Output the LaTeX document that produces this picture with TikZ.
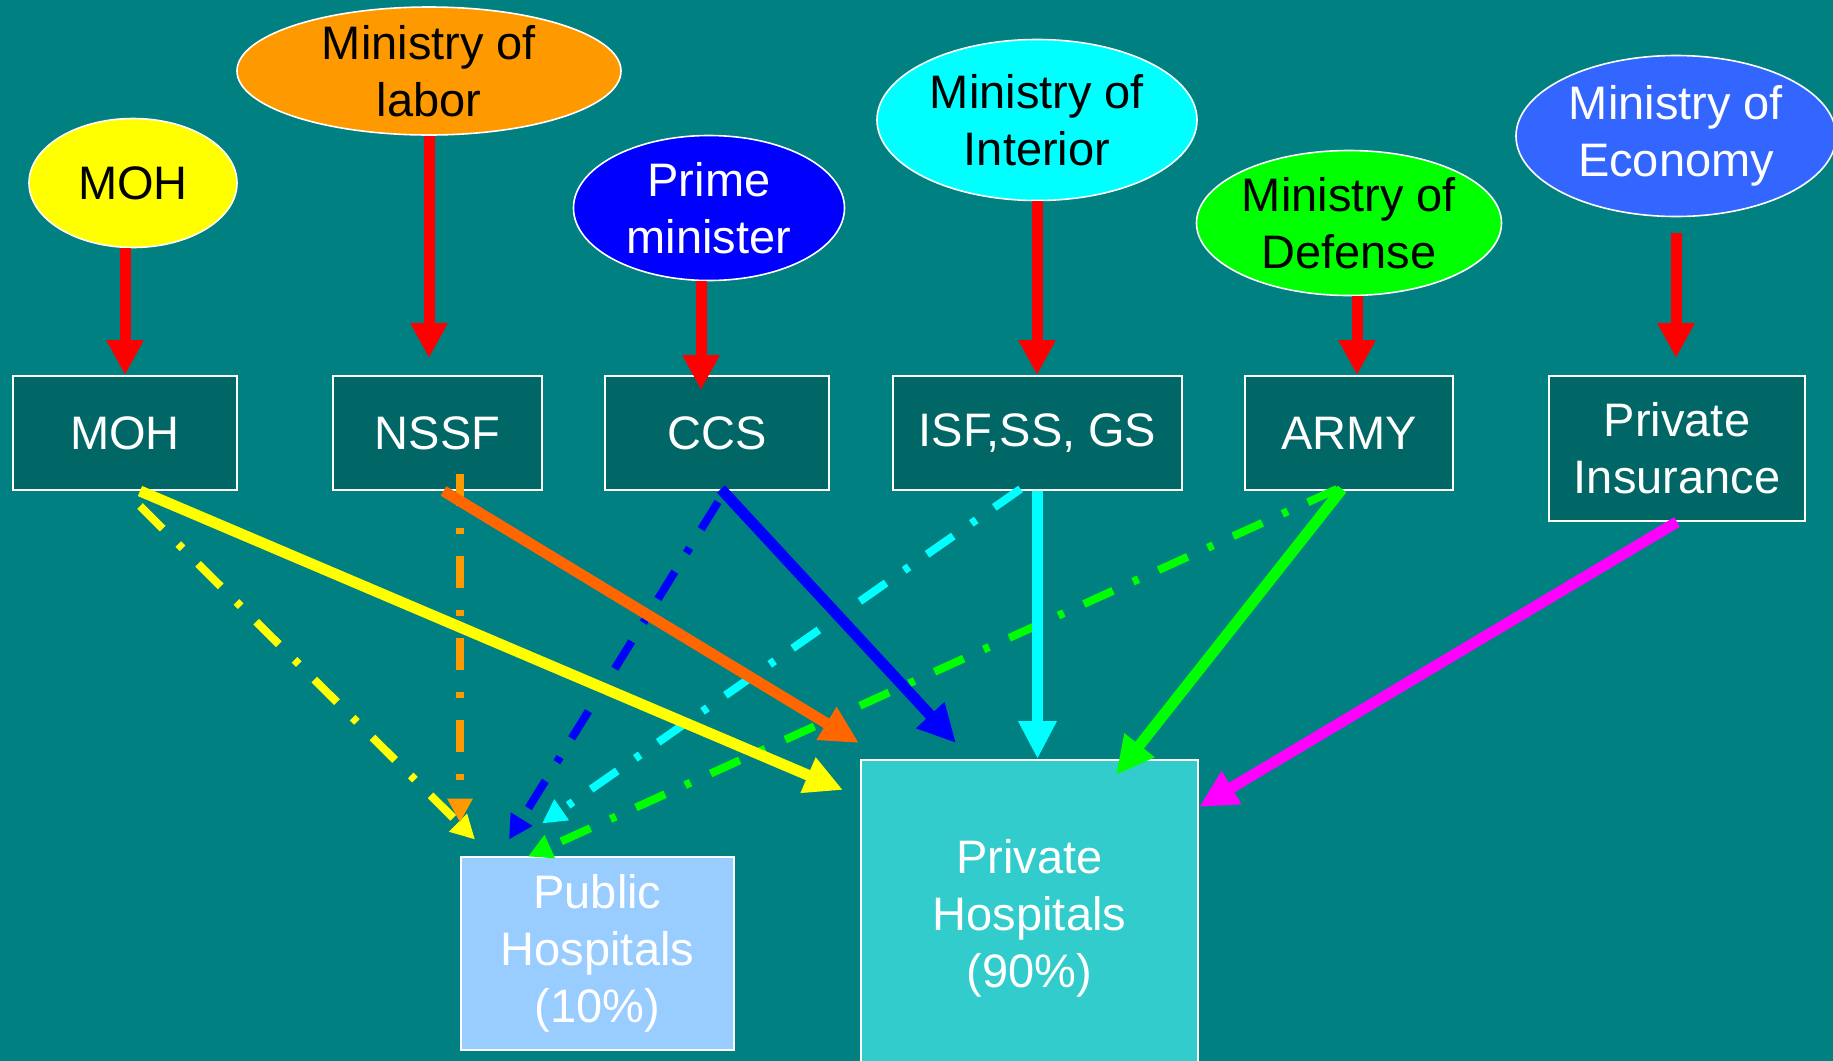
\documentclass[tikz,border=0pt]{standalone}
\usepackage{fontspec}
\setmainfont{Liberation Sans}
\usetikzlibrary{arrows.meta,shapes.geometric,calc}

\definecolor{bgteal}{HTML}{008080}
\definecolor{boxteal}{HTML}{006666}
\definecolor{mohyellow}{HTML}{FFFF00}
\definecolor{labororange}{HTML}{FF9900}
\definecolor{pmblue}{HTML}{0000FF}
\definecolor{intcyan}{HTML}{00FFFF}
\definecolor{defgreen}{HTML}{00FF00}
\definecolor{econblue}{HTML}{3366FF}
\definecolor{pubblue}{HTML}{99CCFF}
\definecolor{privteal}{HTML}{33CCCC}
\definecolor{nssforange}{HTML}{FF6600}
\definecolor{govred}{HTML}{FF0000}
\definecolor{insmagenta}{HTML}{FF00FF}

\begin{document}
\begin{tikzpicture}[
  x=0.5pt, y=-0.5pt,
  font=\fontsize{23.5}{28.5}\selectfont,
  org/.style={ellipse, draw=white, line width=0.8pt, inner xsep=-4pt, inner ysep=-12pt, align=center},
  unit/.style={draw=white, line width=1pt, fill=boxteal, text=white, align=center, minimum height=57pt},
  hosp/.style={draw=white, line width=1pt, text=white, align=center},
  govarr/.style={-{Triangle[length=17.5pt, width=17.5pt]}, line width=5.5pt, govred},
  arr/.style={-{Triangle[length=19pt, width=18pt]}, line width=5.5pt},
  arrdd/.style={-{Triangle[length=12pt, width=12pt]}, line width=4pt,
    dash pattern=on 16pt off 11pt on 3pt off 11pt}
]
\useasboundingbox[fill=bgteal] (0,0) rectangle (1833,1061);

% ---------- Ministries ----------
\node[org, fill=mohyellow, minimum width=104pt, minimum height=64.5pt] (mohm) at (133,183) {MOH};
\node[org, fill=labororange, minimum width=192pt, minimum height=64pt] (labor) at (429,71) {Ministry of\\labor};
\node[org, fill=pmblue, text=white, minimum width=135.5pt, minimum height=72.5pt] (pm) at (709,208) {Prime\\minister};
\node[org, fill=intcyan, minimum width=160pt, minimum height=80.5pt] (intr) at (1037,120) {Ministry of\\Interior};
\node[org, fill=defgreen, minimum width=152.5pt, minimum height=72.5pt] (dfns) at (1349,223) {Ministry of\\Defense};
\node[org, fill=econblue, text=white, minimum width=160pt, minimum height=80.5pt] (econ) at (1676,136) {Ministry of\\Economy};

% ---------- Funds ----------
\node[unit, minimum width=112pt] (mohb) at (125,433) {MOH};
\node[unit, minimum width=104.5pt] (nssf) at (437.5,433) {NSSF};
\node[unit, minimum width=112pt] (ccs) at (717,433) {CCS};
\node[unit, minimum width=144.5pt] (isf) at (1037.5,433) {ISF,SS, GS};
\node[unit, minimum width=104pt] (army) at (1349,433) {ARMY};
\node[unit, minimum width=128pt, minimum height=72.5pt] (pins) at (1677,448.5) {Private\\Insurance};

% ---------- Hospitals ----------
\node[hosp, fill=pubblue, minimum width=136.5pt, minimum height=96.5pt] (pub) at (597.5,953) {Public\\Hospitals\\(10\%)};
\node[hosp, fill=privteal, minimum width=168.5pt, minimum height=158pt] (priv) at (1029.5,918) {Private\\Hospitals\\(90\%)};

% ---------- Ministries to funds ----------
\draw[govarr] (mohm.south -| mohb.north) -- (mohb.north);
\draw[govarr] (labor.south) -- ($(labor.south |- nssf.north)+(0,-17)$);
\draw[govarr] ($(pm.south)+(-8,0)$) -- ($(pm.south |- ccs.north)+(-8,15)$);
\draw[govarr] (intr.south) -- (intr.south |- isf.north);
\draw[govarr] ($(dfns.south)+(8,0)$) -- ($(dfns.south |- army.north)+(8,0)$);
\draw[govarr] ($(econ.south)+(0,16)$) -- ($(econ.south |- pins.north)+(0,-17)$);

% ---------- Funds to public hospitals ----------
\draw[arrdd, mohyellow] ($(mohb.south)+(15,15)$) -- ($(pub.north west)+(15,-16)$);
\draw[arrdd, labororange] ($(pub.north west |- nssf.south)+(0,-17)$) -- ($(pub.north west)+(0,-33)$);
\draw[arrdd, pmblue] ($(ccs.south)+(1,11)$) -- ($(pub.north west)+(49,-16)$);
\draw[arrdd, intcyan] ($(isf.south)+(-17,-2)$) -- ($(pub.north west)+(82,-32)$);
\draw[arrdd, defgreen] ($(army.south)+(-12,-2)$) -- ($(pub.north west)+(68,1)$);

% ---------- Funds to private hospitals ----------
\draw[arr, mohyellow] ($(mohb.south)+(15,0)$) -- ($(priv.north west)+(-17,31)$);
\draw[arr, nssforange] ($(nssf.south)+(6,0)$) -- ($(priv.north west)+(-1,-16)$);
\draw[arr, pmblue] ($(ccs.south)+(4,-2)$) -- ($(priv.north west)+(96,-16)$);
\draw[arr, intcyan] (isf.south) -- (isf.south |- priv.north);
\draw[arr, defgreen] ($(army.south)+(-7,-2)$) -- ($(priv.north west)+(256,16)$);
\draw[arr, insmagenta] (pins.south) -- ($(priv.north east)+(0,48)$);
\end{tikzpicture}
\end{document}
